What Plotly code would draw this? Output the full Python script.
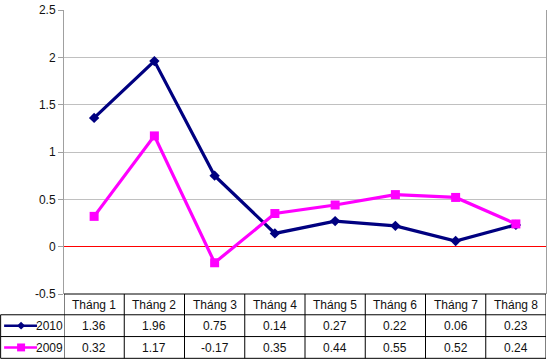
import plotly.graph_objects as go

months = ["Tháng 1", "Tháng 2", "Tháng 3", "Tháng 4", "Tháng 5", "Tháng 6", "Tháng 7", "Tháng 8"]
series_names = ["2010", "2009"]
values_2010 = [1.36, 1.96, 0.75, 0.14, 0.27, 0.22, 0.06, 0.23]
values_2009 = [0.32, 1.17, -0.17, 0.35, 0.44, 0.55, 0.52, 0.24]
y_ticks = [-0.5, 0, 0.5, 1, 1.5, 2, 2.5]

W, H = 550, 364
ML, MR, MT, MB = 64, 3, 7, 70
PW = W - ML - MR
PH = H - MT - MB

def px_x(px):
    return (px - ML) / PW

def px_y(py):
    return (H - MB - py) / PH

xs = list(range(1, len(months) + 1))
NAVY = "#000080"
MAG = "#FF00FF"
FONT = "Liberation Sans, Arial, sans-serif"
TXT = dict(size=12, color="#111111", family=FONT)

fig = go.Figure()
fig.add_trace(go.Scatter(x=xs, y=values_2010, mode="lines+markers", name=series_names[0],
                         line=dict(color=NAVY, width=3.2),
                         marker=dict(symbol="diamond", size=8, color=NAVY)))
fig.add_trace(go.Scatter(x=xs, y=values_2009, mode="lines+markers", name=series_names[1],
                         line=dict(color=MAG, width=3.2),
                         marker=dict(symbol="square", size=9, color=MAG)))

shapes = []
annotations = []
black = dict(color="black", width=1)
# table horizontal lines
row_lines = [H - MB, 315, 337, 359]
for i, py in enumerate(row_lines):
    x0 = px_x(ML) if i == 0 else px_x(0.5)
    shapes.append(dict(type="line", xref="paper", yref="paper", x0=x0, x1=1,
                       y0=px_y(py), y1=px_y(py), line=black, layer="above"))
# vertical lines
shapes.append(dict(type="line", xref="paper", yref="paper", x0=px_x(0.5), x1=px_x(0.5),
                   y0=px_y(315), y1=px_y(359), line=black))
for k in range(len(months) + 1):
    xv = 0.5 + k
    shapes.append(dict(type="line", xref="x", yref="paper", x0=xv, x1=xv,
                       y0=px_y(H - MB), y1=px_y(359), line=black))

def ann(x, y, text, xref="x"):
    return dict(x=x, y=y, xref=xref, yref="paper", text=text, showarrow=False,
                xanchor="center", yanchor="middle", font=TXT)

# header and values
for i, m in enumerate(months):
    annotations.append(ann(xs[i], px_y(305), m))
    annotations.append(ann(xs[i], px_y(326.5), f"{values_2010[i]:g}"))
    annotations.append(ann(xs[i], px_y(348.5), f"{values_2009[i]:g}"))

# legend keys in table
for name, color, py, sym in [(series_names[0], NAVY, 326, "diamond"), (series_names[1], MAG, 348, "square")]:
    shapes.append(dict(type="line", xref="paper", yref="paper", x0=px_x(4), x1=px_x(37),
                       y0=px_y(py), y1=px_y(py), line=dict(color=color, width=2.5)))
    cx, cy = 21, py
    if sym == "diamond":
        path = f"M {px_x(cx-4)} {px_y(cy)} L {px_x(cx)} {px_y(cy-4)} L {px_x(cx+4)} {px_y(cy)} L {px_x(cx)} {px_y(cy+4)} Z"
        shapes.append(dict(type="path", xref="paper", yref="paper", path=path,
                           fillcolor=color, line=dict(color=color, width=0)))
    else:
        shapes.append(dict(type="rect", xref="paper", yref="paper", x0=px_x(cx-4), x1=px_x(cx+4),
                           y0=px_y(cy+4), y1=px_y(cy-4), fillcolor=color, line=dict(color=color, width=0)))
    annotations.append(ann(px_x(49.5), px_y(py + 0.5), name, xref="paper"))

fig.update_layout(
    width=W, height=H,
    margin=dict(l=ML, r=MR, t=MT, b=MB, pad=0),
    paper_bgcolor="white", plot_bgcolor="white",
    showlegend=False,
    font=dict(family=FONT, size=12, color="black"),
    xaxis=dict(range=[0.5, len(months) + 0.5], showticklabels=False, showgrid=False,
               zeroline=False, showline=False, ticks="", fixedrange=True),
    yaxis=dict(range=[-0.5, 2.5], tickvals=y_ticks, ticktext=[f"{v:g}" for v in y_ticks],
               showgrid=True, gridcolor="#C0C0C0", gridwidth=1,
               zeroline=True, zerolinecolor="#FF0000", zerolinewidth=1,
               showline=True, linecolor="#A0A0A0", linewidth=1, mirror=True,
               ticks="outside", ticklen=5, tickcolor="#A0A0A0",
               tickfont=TXT, fixedrange=True),
    shapes=shapes, annotations=annotations,
)

fig.write_html("out.html", config={"displayModeBar": False},
               post_script="document.body.style.margin='0';document.body.style.overflow='hidden';")
